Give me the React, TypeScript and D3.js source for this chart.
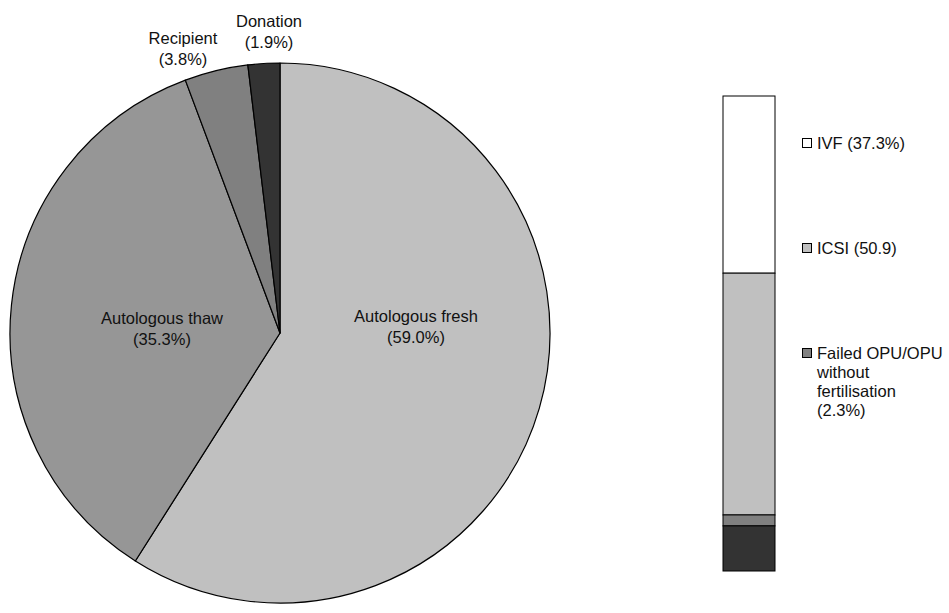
import React from "react";
import * as d3 from "d3";

const pieLabels = ["Autologous fresh", "Autologous thaw", "Recipient", "Donation"];
const pieValues = [59.0, 35.3, 3.8, 1.9];
const pieColors = ["#c0c0c0", "#969696", "#808080", "#333333"];

const barLabels = ["IVF", "ICSI", "Failed OPU/OPU without fertilisation", "Other"];
const barValues = [37.3, 50.9, 2.3, 9.5];
const barColors = ["#ffffff", "#c0c0c0", "#808080", "#333333"];
const legendLines = [["IVF (37.3%)"], ["ICSI (50.9)"], ["Failed OPU/OPU", "without", "fertilisation", "(2.3%)"]];

export default function App() {
  const W = 949, H = 613;
  const cx = 280, cy = 333, r = 270;
  const pie = d3.pie<number>().sort(null).value((d) => d)(pieValues);
  const arc = d3.arc<d3.PieArcDatum<number>>().innerRadius(0).outerRadius(r);

  const labelPos: [number, number][] = [
    [416, 322],
    [162, 324],
    [183, 44],
    [269, 27],
  ];

  const total = d3.sum(barValues);
  const y = d3.scaleLinear().domain([0, total]).range([96, 571]);
  let acc = 0;
  const segs = barValues.map((v, i) => {
    const s = { y0: y(acc), y1: y(acc + v), color: barColors[i], label: barLabels[i] };
    acc += v;
    return s;
  });
  const legendY = [149, 254, 359];
  const fs = 16.5;

  return (
    <svg width={W} height={H} style={{ position: "absolute", left: 0, top: 0, fontFamily: "'Liberation Sans', Arial, sans-serif" }}>
      <rect width={W} height={H} fill="#fff" />
      <g transform={`translate(${cx},${cy})`}>
        {pie.map((p, i) => (
          <path key={i} d={arc(p) || ""} fill={pieColors[i]} stroke="#000" strokeWidth={1.2} strokeLinejoin="round" />
        ))}
      </g>
      {pieLabels.map((l, i) => (
        <text key={i} x={labelPos[i][0]} y={labelPos[i][1]} textAnchor="middle" fontSize={fs} fill="#111">
          <tspan x={labelPos[i][0]} dy={0}>{l}</tspan>
          <tspan x={labelPos[i][0]} dy={21}>({pieValues[i].toFixed(1)}%)</tspan>
        </text>
      ))}
      {segs.map((s, i) => (
        <rect key={i} x={723} y={s.y0} width={52} height={s.y1 - s.y0} fill={s.color} stroke="#000" strokeWidth={1} />
      ))}
      {legendLines.map((lines, i) => (
        <g key={i}>
          <rect x={802.5} y={legendY[i] - 10.5} width={9} height={9} fill={barColors[i]} stroke="#000" strokeWidth={1} />
          <text x={817} y={legendY[i]} fontSize={fs} fill="#111">
            {lines.map((t, j) => (
              <tspan key={j} x={817} dy={j === 0 ? 0 : 19}>{t}</tspan>
            ))}
          </text>
        </g>
      ))}
    </svg>
  );
}
